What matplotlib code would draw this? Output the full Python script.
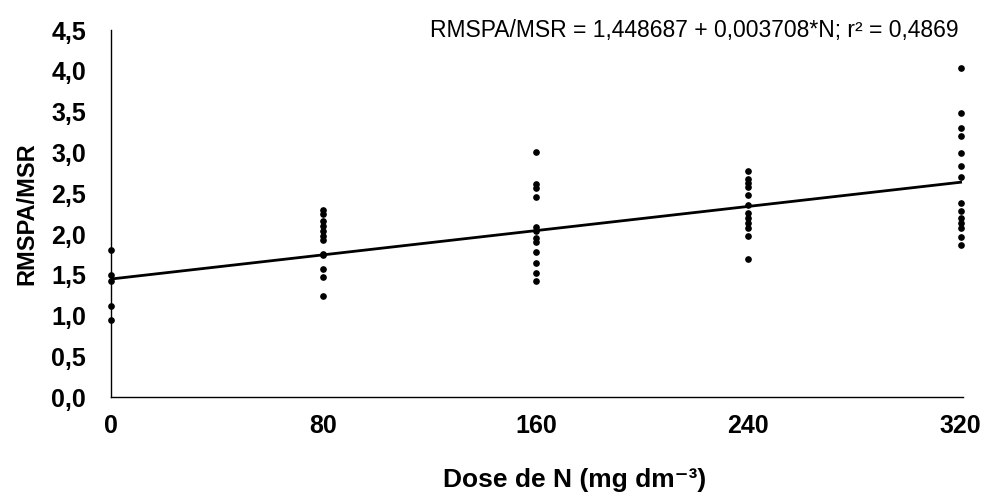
import matplotlib
matplotlib.use('Agg')
import matplotlib.pyplot as plt
import numpy as np
from matplotlib.ticker import FuncFormatter

plt.rcParams['font.family'] = ['Liberation Sans', 'DejaVu Sans']

# RMSPA/MSR observations per nitrogen dose
dose_0 = [1.80, 1.50, 1.42, 1.12, 0.95]
dose_80 = [2.30, 2.24, 2.16, 2.10, 2.04, 1.98, 1.93, 1.76, 1.74, 1.57, 1.47, 1.24]
dose_160 = [3.01, 2.61, 2.56, 2.46, 2.09, 2.04, 1.95, 1.90, 1.78, 1.65, 1.52, 1.43]
dose_240 = [2.77, 2.68, 2.63, 2.58, 2.48, 2.36, 2.26, 2.20, 2.13, 2.07, 1.98, 1.69]
dose_320 = [4.03, 3.49, 3.30, 3.20, 2.99, 2.83, 2.70, 2.38, 2.28, 2.20, 2.14, 2.08, 1.96, 1.87]

doses = [0, 80, 160, 240, 320]
groups = [dose_0, dose_80, dose_160, dose_240, dose_320]

# fitted model
intercept = 1.448687
slope = 0.003708
r2 = 0.4869

fig = plt.figure(figsize=(9.91, 4.94), dpi=100)
ax = fig.add_axes([0.112, 0.196, 0.860, 0.743])

for d, vals in zip(doses, groups):
    ax.plot([d] * len(vals), vals, 'o', color='black', markersize=3.8,
            clip_on=False, zorder=3)

xfit = np.array([0, 320])
ax.plot(xfit, intercept + slope * xfit, color='black', linewidth=2, zorder=2)

ax.set_xlim(0, 321)
ax.set_ylim(0, 4.5)
ax.set_xticks(doses)
ax.set_yticks(np.arange(0, 4.51, 0.5))
ax.yaxis.set_major_formatter(FuncFormatter(lambda v, p: f'{v:.1f}'.replace('.', ',')))

for s in ['top', 'right']:
    ax.spines[s].set_visible(False)
for s in ['left', 'bottom']:
    ax.spines[s].set_linewidth(1.0)

ax.tick_params(axis='both', length=0, labelsize=18)
ax.tick_params(axis='y', pad=18)
ax.tick_params(axis='x', pad=12)
for lbl in ax.get_xticklabels() + ax.get_yticklabels():
    lbl.set_fontweight('bold')

ax.set_ylabel('RMSPA/MSR', fontsize=17, fontweight='bold', labelpad=9)
fig.text(0.58, 0.028, 'Dose de N (mg dm⁻³)', ha='center', va='center',
         fontsize=19, fontweight='bold')

eq = f'RMSPA/MSR = {intercept:.6f} + {slope:.6f}*N; r² = {r2:.4f}'.replace('.', ',')
fig.text(0.967, 0.939, eq, ha='right', va='center', fontsize=16.5)

fig.savefig('out.png', dpi=100)
